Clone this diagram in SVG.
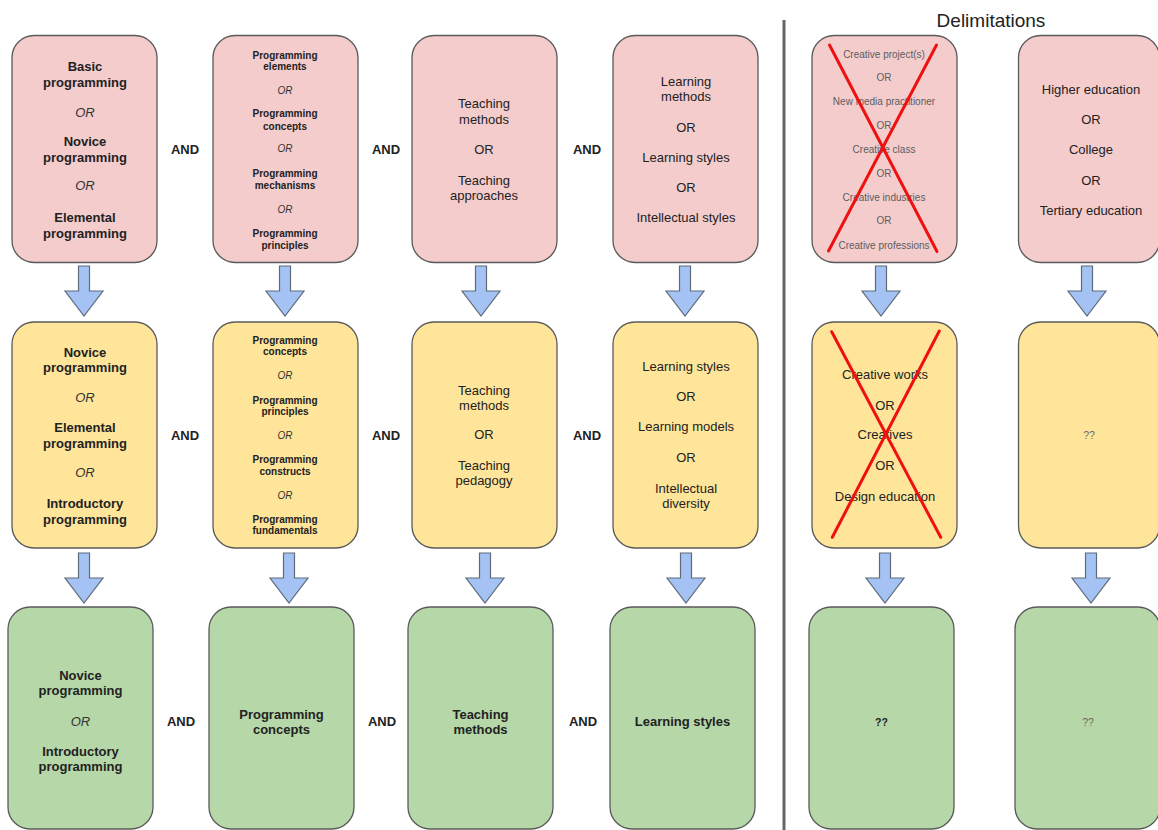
<svg xmlns="http://www.w3.org/2000/svg" width="1158" height="830" viewBox="0 0 1158 830">
  <style>
    text { font-family: "Liberation Sans", Arial, sans-serif; text-anchor: middle; fill: #222; }
    .box { stroke: #5a5a5a; stroke-width: 1.3; }
    .pink { fill: #f4cccc; }
    .yellow { fill: #ffe599; }
    .green { fill: #b6d7a8; }
    .b13 { font-size: 13px; font-weight: bold; }
    .n13 { font-size: 13px; }
    .b10 { font-size: 10px; font-weight: bold; }
    .or { font-style: italic; font-weight: normal; fill: #333; }
    .g10 { font-size: 10px; fill: #5c5c5c; }
    .q { font-size: 10.5px; fill: #6b6b6b; }
    .and { font-size: 13px; font-weight: bold; }
    .cross { stroke: #f01010; stroke-width: 3; stroke-linecap: round; }
    .arrow { fill: #a4c2f4; stroke: #5f6b7a; stroke-width: 1.2; stroke-linejoin: miter; }
  </style>
  <defs>
    <!-- block arrow, origin at the top centre of the shaft -->
    <path id="down" class="arrow" d="M -5.5 0 H 5.5 V 25 H 19 L 0 50 L -19 25 H -5.5 Z"/>
  </defs>

  <rect width="1158" height="830" fill="#ffffff"/>

  <!-- divider and heading -->
  <line x1="784" y1="20" x2="784" y2="830" stroke="#666" stroke-width="3"/>
  <text x="991" y="27" style="font-size:19px;fill:#222">Delimitations</text>

  <!-- connectors -->
  <g id="connectors">
    <use href="#down" x="84" y="266"/>
    <use href="#down" x="285" y="266"/>
    <use href="#down" x="481" y="266"/>
    <use href="#down" x="685" y="266"/>
    <use href="#down" x="881" y="266"/>
    <use href="#down" x="1087" y="266"/>
    <use href="#down" x="84" y="553"/>
    <use href="#down" x="289" y="553"/>
    <use href="#down" x="485" y="553"/>
    <use href="#down" x="686" y="553"/>
    <use href="#down" x="885" y="553"/>
    <use href="#down" x="1091" y="553"/>
  </g>

  <!-- AND operators -->
  <g id="and-labels" class="and">
    <text class="and" x="185" y="154">AND</text>
    <text class="and" x="386" y="154">AND</text>
    <text class="and" x="587" y="154">AND</text>
    <text class="and" x="185" y="440">AND</text>
    <text class="and" x="386" y="440">AND</text>
    <text class="and" x="587" y="440">AND</text>
    <text class="and" x="181" y="726">AND</text>
    <text class="and" x="382" y="726">AND</text>
    <text class="and" x="583" y="726">AND</text>
  </g>

  <!-- row 1: search terms -->
  <g id="r1-topic">
    <rect class="box pink" x="12" y="35.5" width="145" height="227" rx="22"/>
    <text class="b13" x="85" y="71">Basic</text>
    <text class="b13" x="85" y="87">programming</text>
    <text class="b13 or" x="85" y="117">OR</text>
    <text class="b13" x="85" y="146">Novice</text>
    <text class="b13" x="85" y="162">programming</text>
    <text class="b13 or" x="85" y="190">OR</text>
    <text class="b13" x="85" y="222">Elemental</text>
    <text class="b13" x="85" y="238">programming</text>
  </g>
  <g id="r1-concepts">
    <rect class="box pink" x="213" y="35.5" width="145" height="227" rx="22"/>
    <text class="b10" x="285" y="58.5">Programming</text>
    <text class="b10" x="285" y="70">elements</text>
    <text class="b10 or" x="285" y="93.5">OR</text>
    <text class="b10" x="285" y="117">Programming</text>
    <text class="b10" x="285" y="129.5">concepts</text>
    <text class="b10 or" x="285" y="152">OR</text>
    <text class="b10" x="285" y="177">Programming</text>
    <text class="b10" x="285" y="189">mechanisms</text>
    <text class="b10 or" x="285" y="213">OR</text>
    <text class="b10" x="285" y="237">Programming</text>
    <text class="b10" x="285" y="249">principles</text>
  </g>
  <g id="r1-teaching">
    <rect class="box pink" x="412" y="35.5" width="145" height="227" rx="22"/>
    <text class="n13" x="484" y="108">Teaching</text>
    <text class="n13" x="484" y="124">methods</text>
    <text class="n13" x="484" y="154">OR</text>
    <text class="n13" x="484" y="185">Teaching</text>
    <text class="n13" x="484" y="200">approaches</text>
  </g>
  <g id="r1-learning">
    <rect class="box pink" x="613" y="35.5" width="145" height="227" rx="22"/>
    <text class="n13" x="686" y="86">Learning</text>
    <text class="n13" x="686" y="101">methods</text>
    <text class="n13" x="686" y="132">OR</text>
    <text class="n13" x="686" y="161.5">Learning styles</text>
    <text class="n13" x="686" y="192">OR</text>
    <text class="n13" x="686" y="222">Intellectual styles</text>
  </g>
  <g id="r1-creative">
    <rect class="box pink" x="812" y="35.5" width="145" height="227" rx="22"/>
    <text class="g10" x="884" y="57.6">Creative project(s)</text>
    <text class="g10" x="884" y="81.3">OR</text>
    <text class="g10" x="884" y="105.3">New media practitioner</text>
    <text class="g10" x="884" y="128.6">OR</text>
    <text class="g10" x="884" y="152.6">Creative class</text>
    <text class="g10" x="884" y="177">OR</text>
    <text class="g10" x="884" y="201">Creative industries</text>
    <text class="g10" x="884" y="224.3">OR</text>
    <text class="g10" x="884" y="249.3">Creative professions</text>
    <line class="cross" x1="829.5" y1="45" x2="937" y2="251.5"/>
    <line class="cross" x1="936.5" y1="45" x2="828.5" y2="251"/>
  </g>
  <g id="r1-education">
    <rect class="box pink" x="1018.5" y="35.5" width="141" height="227" rx="22"/>
    <text class="n13" x="1091" y="94">Higher education</text>
    <text class="n13" x="1091" y="124">OR</text>
    <text class="n13" x="1091" y="154">College</text>
    <text class="n13" x="1091" y="185">OR</text>
    <text class="n13" x="1091" y="215">Tertiary education</text>
  </g>

  <!-- row 2: refined terms -->
  <g id="r2-topic">
    <rect class="box yellow" x="12" y="322" width="145" height="226" rx="22"/>
    <text class="b13" x="85" y="356.5">Novice</text>
    <text class="b13" x="85" y="372">programming</text>
    <text class="b13 or" x="85" y="402">OR</text>
    <text class="b13" x="85" y="431.5">Elemental</text>
    <text class="b13" x="85" y="447.5">programming</text>
    <text class="b13 or" x="85" y="476.5">OR</text>
    <text class="b13" x="85" y="508">Introductory</text>
    <text class="b13" x="85" y="524">programming</text>
  </g>
  <g id="r2-concepts">
    <rect class="box yellow" x="213" y="322" width="145" height="226" rx="22"/>
    <text class="b10" x="285" y="343.6">Programming</text>
    <text class="b10" x="285" y="355.3">concepts</text>
    <text class="b10 or" x="285" y="379.3">OR</text>
    <text class="b10" x="285" y="403.6">Programming</text>
    <text class="b10" x="285" y="414.8">principles</text>
    <text class="b10 or" x="285" y="438.6">OR</text>
    <text class="b10" x="285" y="463">Programming</text>
    <text class="b10" x="285" y="474.6">constructs</text>
    <text class="b10 or" x="285" y="498.6">OR</text>
    <text class="b10" x="285" y="523">Programming</text>
    <text class="b10" x="285" y="534.3">fundamentals</text>
  </g>
  <g id="r2-teaching">
    <rect class="box yellow" x="412" y="322" width="145" height="226" rx="22"/>
    <text class="n13" x="484" y="394.7">Teaching</text>
    <text class="n13" x="484" y="409.7">methods</text>
    <text class="n13" x="484" y="438.7">OR</text>
    <text class="n13" x="484" y="469.7">Teaching</text>
    <text class="n13" x="484" y="484.7">pedagogy</text>
  </g>
  <g id="r2-learning">
    <rect class="box yellow" x="613" y="322" width="145" height="226" rx="22"/>
    <text class="n13" x="686" y="371.4">Learning styles</text>
    <text class="n13" x="686" y="401.4">OR</text>
    <text class="n13" x="686" y="431.4">Learning models</text>
    <text class="n13" x="686" y="462">OR</text>
    <text class="n13" x="686" y="493">Intellectual</text>
    <text class="n13" x="686" y="508">diversity</text>
  </g>
  <g id="r2-creative">
    <rect class="box yellow" x="812" y="322" width="145" height="226" rx="22"/>
    <text class="n13" x="885" y="378.7">Creative works</text>
    <text class="n13" x="885" y="409.7">OR</text>
    <text class="n13" x="885" y="438.7">Creatives</text>
    <text class="n13" x="885" y="469.7">OR</text>
    <text class="n13" x="885" y="501.4">Design education</text>
    <line class="cross" x1="831.7" y1="331.7" x2="940.7" y2="537.3"/>
    <line class="cross" x1="939.3" y1="331" x2="832.3" y2="537.3"/>
  </g>
  <g id="r2-education">
    <rect class="box yellow" x="1018.5" y="322" width="141" height="226" rx="22"/>
    <text class="q" x="1089" y="439">??</text>
  </g>

  <!-- row 3: final terms -->
  <g id="r3-topic">
    <rect class="box green" x="8" y="607" width="145" height="222" rx="22"/>
    <text class="b13" x="80.5" y="680.4">Novice</text>
    <text class="b13" x="80.5" y="695.4">programming</text>
    <text class="b13 or" x="80.5" y="726">OR</text>
    <text class="b13" x="80.5" y="755.7">Introductory</text>
    <text class="b13" x="80.5" y="771.4">programming</text>
  </g>
  <g id="r3-concepts">
    <rect class="box green" x="209" y="607" width="145" height="222" rx="22"/>
    <text class="b13" x="281.5" y="718.7">Programming</text>
    <text class="b13" x="281.5" y="733.5">concepts</text>
  </g>
  <g id="r3-teaching">
    <rect class="box green" x="408" y="607" width="145" height="222" rx="22"/>
    <text class="b13" x="480.5" y="718.7">Teaching</text>
    <text class="b13" x="480.5" y="733.5">methods</text>
  </g>
  <g id="r3-learning">
    <rect class="box green" x="610" y="607" width="145" height="222" rx="22"/>
    <text class="b13" x="682.5" y="726.4">Learning styles</text>
  </g>
  <g id="r3-creative">
    <rect class="box green" x="809" y="607" width="145" height="222" rx="22"/>
    <text class="b10" x="881.5" y="725.5" style="font-size:10.5px">??</text>
  </g>
  <g id="r3-education">
    <rect class="box green" x="1015" y="607" width="145" height="222" rx="22"/>
    <text class="q" x="1088" y="725.5">??</text>
  </g>
</svg>
